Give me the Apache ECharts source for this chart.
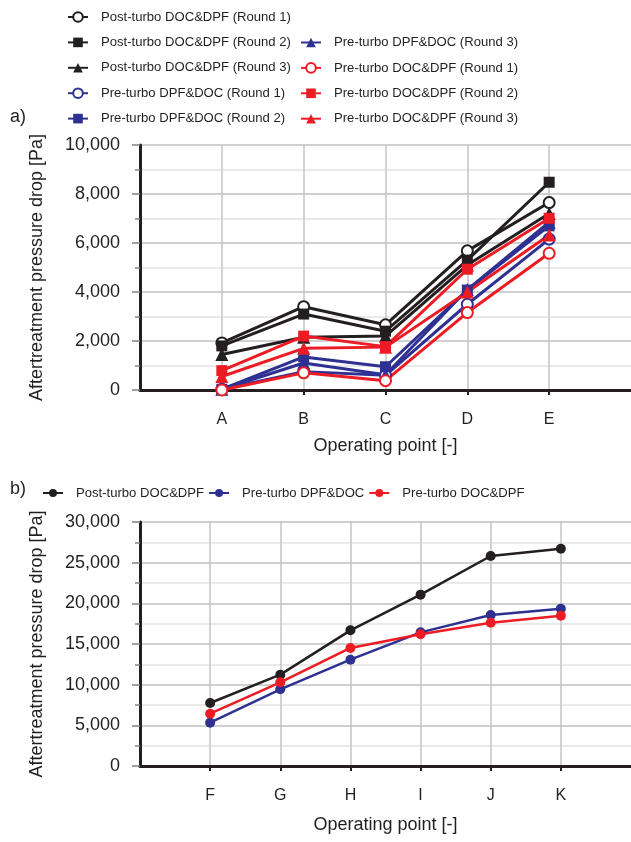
<!DOCTYPE html>
<html>
<head>
<meta charset="utf-8">
<script src="https://cdn.jsdelivr.net/npm/echarts@6/dist/echarts.min.js"></script>
<style>
  html, body { margin: 0; padding: 0; background: #fff; }
  #chart { width: 631px; height: 842px; }
</style>
</head>
<body>
<div id="chart"></div>
<script>
// panel a) operating points A-E, three rounds per layout
var catsA = ['A', 'B', 'C', 'D', 'E'];
var postRound1 = [1920, 3400, 2660, 5680, 7650];
var postRound2 = [1800, 3100, 2400, 5300, 8480];
var postRound3 = [1450, 2150, 2200, 5100, 7200];
var dpfRound1 = [30, 750, 600, 3500, 6160];
var dpfRound2 = [30, 1350, 950, 4080, 6700];
var dpfRound3 = [30, 1100, 620, 4100, 6850];
var docRound1 = [0, 700, 380, 3160, 5580];
var docRound2 = [790, 2200, 1770, 4930, 7010];
var docRound3 = [550, 1700, 1750, 4000, 6330];
var ticksA = [0, 2000, 4000, 6000, 8000, 10000];

// panel b) operating points F-K
var catsB = ['F', 'G', 'H', 'I', 'J', 'K'];
var postB = [7750, 11230, 16680, 21070, 25820, 26720];
var dpfB = [5330, 9430, 13070, 16430, 18570, 19340];
var docB = [6430, 10290, 14510, 16190, 17620, 18480];
var ticksB = [0, 5000, 10000, 15000, 20000, 25000, 30000];

var BLACK = '#231f20', BLUE = '#2e3192', RED = '#ed1c24';
var TXT = '#231f20';
var FONT = 'Liberation Sans, Arial, sans-serif';

function pad(arr) { return ['-'].concat(arr, ['-']); }
function padCats(arr) { return [''].concat(arr, ['']); }
function inner(n) { return function (i) { return i > 0 && i < n - 1; }; }
function fmt(v) { return Number(v).toLocaleString('en-US'); }

function xAxis(cats, grid, gap) {
  var n = cats.length + 2;
  return {
    type: 'category', gridIndex: grid, data: padCats(cats), boundaryGap: false,
    name: 'Operating point [-]', nameLocation: 'middle', nameGap: gap,
    nameTextStyle: { fontFamily: FONT, fontSize: 18, color: TXT },
    axisLine: { lineStyle: { color: BLACK, width: 3 } },
    axisTick: { show: true, interval: inner(n), length: 5, lineStyle: { color: BLACK, width: 2 } },
    axisLabel: { interval: inner(n), margin: 22, fontFamily: FONT, fontSize: 16, color: TXT },
    splitLine: { show: true, interval: inner(n), lineStyle: { color: '#c4c4c6', width: 1.5 } }
  };
}

function yAxis(ticks, grid) {
  return {
    type: 'value', gridIndex: grid, min: ticks[0], max: ticks[ticks.length - 1],
    interval: ticks[1] - ticks[0],
    name: 'Aftertreatment pressure drop [Pa]', nameLocation: 'middle', nameGap: 94,
    nameTextStyle: { fontFamily: FONT, fontSize: 18, color: TXT },
    axisLine: { show: true, lineStyle: { color: BLACK, width: 3 } },
    axisTick: { show: true, length: 8, lineStyle: { color: '#808285', width: 1.5 } },
    minorTick: { show: true, splitNumber: 2, length: 5, lineStyle: { color: '#808285', width: 1.5 } },
    axisLabel: { margin: 20, fontFamily: FONT, fontSize: 18, color: TXT, formatter: fmt },
    splitLine: { show: true, lineStyle: { color: '#c0c0c2', width: 1.5 } },
    minorSplitLine: { show: true, lineStyle: { color: '#e4e4e5', width: 1.5 } }
  };
}

function lineA(name, data, color, symbol) {
  return {
    name: name, type: 'line', xAxisIndex: 0, yAxisIndex: 0, data: pad(data),
    symbol: symbol, symbolSize: symbol === 'triangle' ? 13 : 11, showAllSymbol: true,
    itemStyle: { color: color, borderColor: color, borderWidth: symbol === 'emptyCircle' ? 1.5 : 0 },
    lineStyle: { color: color, width: 3 }, emphasis: { disabled: true }, animation: false
  };
}

function lineB(name, data, color) {
  return {
    name: name, type: 'line', xAxisIndex: 1, yAxisIndex: 1, data: pad(data),
    symbol: 'circle', symbolSize: 10,
    itemStyle: { color: color }, lineStyle: { color: color, width: 2.5 },
    emphasis: { disabled: true }, animation: false
  };
}

var names = {
  p1: 'Post-turbo DOC&DPF (Round 1)', p2: 'Post-turbo DOC&DPF (Round 2)', p3: 'Post-turbo DOC&DPF (Round 3)',
  d1: 'Pre-turbo DPF&DOC (Round 1)', d2: 'Pre-turbo DPF&DOC (Round 2)', d3: 'Pre-turbo DPF&DOC (Round 3)',
  o1: 'Pre-turbo DOC&DPF (Round 1)', o2: 'Pre-turbo DOC&DPF (Round 2)', o3: 'Pre-turbo DOC&DPF (Round 3)'
};

var legendText = { fontFamily: FONT, fontSize: 13.1, color: TXT, lineHeight: 18, padding: [0, 0, 0, 8] };

var option = {
  backgroundColor: '#fff',
  animation: false,
  grid: [
    { left: 140, top: 145, height: 245, right: 0 },
    { left: 140, top: 522, height: 244, right: 0 }
  ],
  legend: [
    { orient: 'vertical', left: 62, top: 3, itemWidth: 20, itemHeight: 12, itemGap: 7.4,
      textStyle: legendText, selectedMode: false,
      data: [names.p1, names.p2, names.p3, names.d1, names.d2] },
    { orient: 'vertical', left: 295, top: 28.5, itemWidth: 20, itemHeight: 12, itemGap: 7.4,
      textStyle: legendText, selectedMode: false,
      data: [names.d3, names.o1, names.o2, names.o3] },
    { orient: 'horizontal', left: 37, top: 479, itemWidth: 20, itemHeight: 10, itemGap: 4,
      textStyle: legendText, selectedMode: false,
      data: ['Post-turbo DOC&DPF', 'Pre-turbo DPF&DOC', 'Pre-turbo DOC&DPF'] }
  ],
  graphic: [
    { type: 'text', left: 10, top: 108, style: { text: 'a)', font: '18px ' + FONT, fill: TXT } },
    { type: 'text', left: 10, top: 480, style: { text: 'b)', font: '18px ' + FONT, fill: TXT } }
  ],
  xAxis: [xAxis(catsA, 0, 47), xAxis(catsB, 1, 50)],
  yAxis: [yAxis(ticksA, 0), yAxis(ticksB, 1)],
  series: [
    lineA(names.p1, postRound1, BLACK, 'emptyCircle'),
    lineA(names.p2, postRound2, BLACK, 'rect'),
    lineA(names.p3, postRound3, BLACK, 'triangle'),
    lineA(names.d1, dpfRound1, BLUE, 'emptyCircle'),
    lineA(names.d2, dpfRound2, BLUE, 'rect'),
    lineA(names.d3, dpfRound3, BLUE, 'triangle'),
    lineA(names.o1, docRound1, RED, 'emptyCircle'),
    lineA(names.o2, docRound2, RED, 'rect'),
    lineA(names.o3, docRound3, RED, 'triangle'),
    lineB('Post-turbo DOC&DPF', postB, BLACK),
    lineB('Pre-turbo DPF&DOC', dpfB, BLUE),
    lineB('Pre-turbo DOC&DPF', docB, RED)
  ]
};

var myChart = echarts.init(document.getElementById('chart'));
myChart.setOption(option);
</script>
</body>
</html>
